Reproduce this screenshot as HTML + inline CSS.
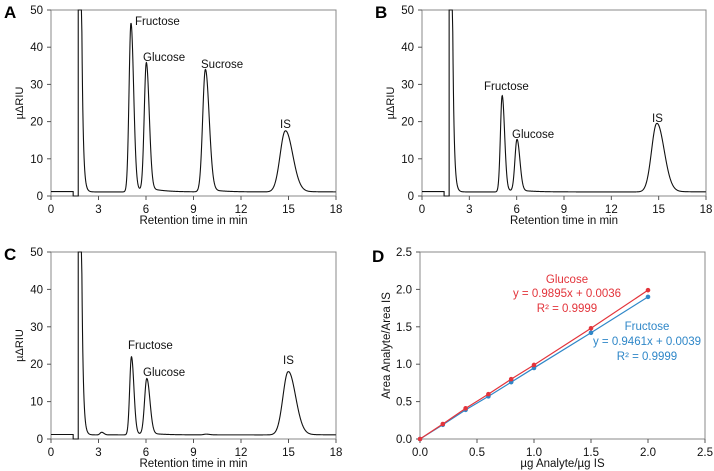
<!DOCTYPE html>
<html><head><meta charset="utf-8"><style>
html,body{margin:0;padding:0;background:#fff}
svg{display:block;font-family:"Liberation Sans",sans-serif}
</style></head><body>
<svg id="fig" width="714" height="471" viewBox="0 0 714 471"></svg>
<script>
// Chromatogram peaks: retention times, apex heights (µΔRIU), widths
const peakTimesA = [5.05, 6.02, 9.75, 14.8];
const peakHeightsA = [46.5, 35.5, 34, 17.5];
const peakWidthsA = [0.12, 0.13, 0.17, 0.33];
const peakTimesB = [5.08, 6.02, 14.88];
const peakHeightsB = [27, 15, 19.5];
const peakWidthsB = [0.11, 0.13, 0.33];
const peakTimesC = [3.2, 5.08, 6.05, 9.8, 14.98];
const peakHeightsC = [1.8, 22, 16, 1.3, 18];
const peakWidthsC = [0.1, 0.11, 0.14, 0.15, 0.33];
const labelsA = ["Fructose","Glucose","Sucrose","IS"];
const labelsB = ["Fructose","Glucose","IS"];
const labelsC = ["Fructose","Glucose","IS"];
const xTicksChrom = [0,3,6,9,12,15,18];
const yTicksChrom = [0,10,20,30,40,50];
// Calibration
const calX = [0,0.2,0.4,0.6,0.8,1.0,1.5,2.0];
const calGlucose = [0,0.2,0.41,0.6,0.8,0.99,1.48,1.99];
const calFructose = [0,0.19,0.39,0.57,0.76,0.95,1.42,1.9];
const calTicks = [0,0.5,1.0,1.5,2.0,2.5];
const calTickLabels = ["0.0","0.5","1.0","1.5","2.0","2.5"];

const NS="http://www.w3.org/2000/svg";
const svg=document.getElementById('fig');
function mk(tag,attrs,parent,text){const e=document.createElementNS(NS,tag);for(const k in attrs)e.setAttribute(k,attrs[k]);if(text!==undefined)e.textContent=text;(parent||svg).appendChild(e);return e;}

function frame(g,x0,x1,y0,y1){
  mk('rect',{x:x0,y:y1,width:x1-x0,height:y0-y1,fill:'none',stroke:'#888','stroke-width':1},g);
}

function chrom(id,letter,x0,x1,y0,y1,times,heights,widths,labels,labelPos){
  const g=mk('g',{});
  
  
  const sx=t=>x0+(t/18)*(x1-x0);
  const sy=v=>y0-(v/50)*(y0-y1);
  frame(g,x0,x1,y0,y1);
  xTicksChrom.forEach(t=>{
    mk('line',{x1:sx(t),x2:sx(t),y1:y0,y2:y0+4,stroke:'#555'},g);
    const tl=mk('text',{x:sx(t),y:y0+17,'text-anchor':'middle','font-size':11.5,fill:'#111'},g,t);
    
    
  });
  yTicksChrom.forEach(v=>{
    mk('line',{x1:x0-4,x2:x0,y1:sy(v),y2:sy(v),stroke:'#555'},g);
    const tl=mk('text',{x:x0-8,y:sy(v)+4,'text-anchor':'end','font-size':11.5,fill:'#111'},g,v);
    
    
  });
  const xt=mk('text',{x:(x0+x1)/2,y:y0+28,'text-anchor':'middle','font-size':11.5,fill:'#111'},g,'Retention time in min');
  
  
  const yt=mk('text',{x:0,y:0,transform:`translate(${x0-28},${(y0+y1)/2}) rotate(-90)`,'text-anchor':'middle','font-size':11,fill:'#111'},g,'µΔRIU');
  
  
  const pl=mk('text',{x:x0-47,y:y1+8,'font-size':17,'font-weight':'bold',fill:'#000'},g,letter);
  
  
  const base=1.1;
  let d=`M${sx(0)},${sy(1.2)} L${sx(1.4)},${sy(1.2)} L${sx(1.4)},${sy(0)} L${sx(1.72)},${sy(0)} L${sx(1.72)},${y1} L${sx(1.92)},${y1}`;
  for(let t=1.95;t<=18;t+=0.02){
    let v=base+60*Math.exp(-(t-1.92)/0.09);
    for(let i=0;i<times.length;i++){
      const dt=t-times[i];const s=dt<0?widths[i]:widths[i]*1.4;
      const h=heights[i]-base;
      v+=h*Math.exp(-dt*dt/(2*s*s));
      if(dt>0) v+=h*0.03*Math.exp(-dt/0.8)*(1-Math.exp(-dt/0.3));
    }
    v=Math.min(v,50);
    d+=` L${sx(t).toFixed(2)},${sy(v).toFixed(2)}`;
  }
  const p=mk('path',{d:d,fill:'none',stroke:'#111','stroke-width':1.1},g);
  
  
  labels.forEach((lb,i)=>{
    const t=mk('text',{x:labelPos[i][0],y:labelPos[i][1],'font-size':11.5,fill:'#111'},g,lb);
    
    
  });
}

chrom('a','A',51,336,196,10,peakTimesA,peakHeightsA,peakWidthsA,labelsA,[[135,25],[143,61],[201,68],[280,128]]);
chrom('b','B',422,706,196,10,peakTimesB,peakHeightsB,peakWidthsB,labelsB,[[484,90],[512,138],[652,122]]);
chrom('c','C',51,336,439,252,peakTimesC,peakHeightsC,peakWidthsC,labelsC,[[128,349],[143,376],[283,364]]);

// Panel D
(function(){
  const x0=420,x1=705,y0=439,y1=252;
  const g=mk('g',{});
  
  
  const sx=v=>x0+(v/2.5)*(x1-x0);
  const sy=v=>y0-(v/2.5)*(y0-y1);
  frame(g,x0,x1,y0,y1);
  calTicks.forEach((v,i)=>{
    mk('line',{x1:sx(v),x2:sx(v),y1:y0,y2:y0+4,stroke:'#555'},g);
    const a=mk('text',{x:sx(v),y:y0+17,'text-anchor':'middle','font-size':11.5,fill:'#111'},g,calTickLabels[i]);
    
    
    mk('line',{x1:x0-4,x2:x0,y1:sy(v),y2:sy(v),stroke:'#555'},g);
    const b=mk('text',{x:x0-8,y:sy(v)+4,'text-anchor':'end','font-size':11.5,fill:'#111'},g,calTickLabels[i]);
    
    
  });
  const xt=mk('text',{x:(x0+x1)/2,y:y0+28,'text-anchor':'middle','font-size':11.5,fill:'#111'},g,'µg Analyte/µg IS');
  
  
  const yt=mk('text',{x:0,y:0,transform:`translate(${x0-30},${(y0+y1)/2}) rotate(-90)`,'text-anchor':'middle','font-size':11.5,fill:'#111'},g,'Area Analyte/Area IS');
  
  
  const pl=mk('text',{x:372,y:y1+10,'font-size':17,'font-weight':'bold',fill:'#000'},g,'D');
  
  
  function series(vals,color,name){
    const pts=calX.map((x,i)=>sx(x)+','+sy(vals[i])).join(' ');
    const l=mk('polyline',{points:pts,fill:'none',stroke:color,'stroke-width':1.2},g);
    
    
    calX.forEach((x,i)=>{
      const c=mk('circle',{cx:sx(x),cy:sy(vals[i]),r:2.3,fill:color},g);
      
      
    });
  }
  series(calFructose,'#2f87c8','fructose');
  series(calGlucose,'#e3343b','glucose');
  const gl=[['Glucose',283],['y = 0.9895x + 0.0036',297],['R² = 0.9999',312]];
  gl.forEach(a=>{const t=mk('text',{x:567,y:a[1],'text-anchor':'middle','font-size':11.5,fill:'#e3343b'},g,a[0]);
    
    });
  const fr=[['Fructose',330],['y = 0.9461x + 0.0039',345],['R² = 0.9999',360]];
  fr.forEach(a=>{const t=mk('text',{x:647,y:a[1],'text-anchor':'middle','font-size':11.5,fill:'#2f87c8'},g,a[0]);
    
    });
})();
</script>
</body></html>
